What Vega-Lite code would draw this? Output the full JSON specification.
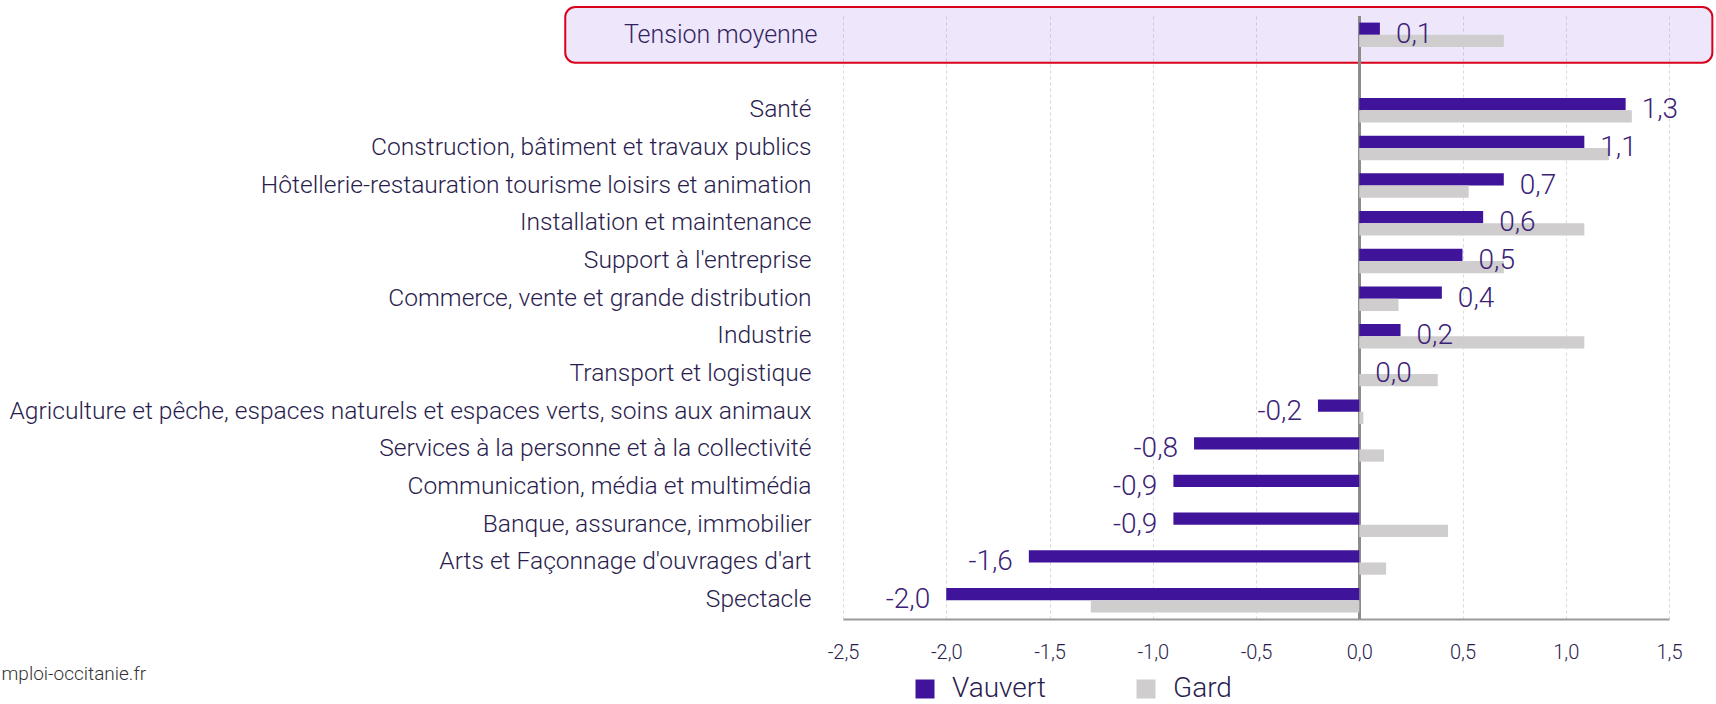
{
  "$schema": "https://vega.github.io/schema/vega-lite/v6.json",
  "autosize": "none",
  "width": 826,
  "height": 603,
  "padding": {"left": 843, "top": 16, "right": 47, "bottom": 85},
  "background": "white",
  "config": {
    "locale": {"number": {"decimal": ",", "thousands": " ", "grouping": [3], "currency": ["", " €"], "minus": "-"}},
    "view": {"stroke": null},
    "font": "Roboto"
  },
  "data": {
    "values": [
      {"cat": "Tension moyenne", "serie": "Vauvert", "value": 0.10},
      {"cat": "Tension moyenne", "serie": "Gard", "value": 0.70},
      {"cat": "Santé", "serie": "Vauvert", "value": 1.29},
      {"cat": "Santé", "serie": "Gard", "value": 1.32},
      {"cat": "Construction, bâtiment et travaux publics", "serie": "Vauvert", "value": 1.09},
      {"cat": "Construction, bâtiment et travaux publics", "serie": "Gard", "value": 1.21},
      {"cat": "Hôtellerie-restauration tourisme loisirs et animation", "serie": "Vauvert", "value": 0.70},
      {"cat": "Hôtellerie-restauration tourisme loisirs et animation", "serie": "Gard", "value": 0.53},
      {"cat": "Installation et maintenance", "serie": "Vauvert", "value": 0.60},
      {"cat": "Installation et maintenance", "serie": "Gard", "value": 1.09},
      {"cat": "Support à l'entreprise", "serie": "Vauvert", "value": 0.50},
      {"cat": "Support à l'entreprise", "serie": "Gard", "value": 0.70},
      {"cat": "Commerce, vente et grande distribution", "serie": "Vauvert", "value": 0.40},
      {"cat": "Commerce, vente et grande distribution", "serie": "Gard", "value": 0.19},
      {"cat": "Industrie", "serie": "Vauvert", "value": 0.20},
      {"cat": "Industrie", "serie": "Gard", "value": 1.09},
      {"cat": "Transport et logistique", "serie": "Vauvert", "value": 0.00},
      {"cat": "Transport et logistique", "serie": "Gard", "value": 0.38},
      {"cat": "Agriculture et pêche, espaces naturels et espaces verts, soins aux animaux", "serie": "Vauvert", "value": -0.20},
      {"cat": "Agriculture et pêche, espaces naturels et espaces verts, soins aux animaux", "serie": "Gard", "value": 0.02},
      {"cat": "Services à la personne et à la collectivité", "serie": "Vauvert", "value": -0.80},
      {"cat": "Services à la personne et à la collectivité", "serie": "Gard", "value": 0.12},
      {"cat": "Communication, média et multimédia", "serie": "Vauvert", "value": -0.90},
      {"cat": "Communication, média et multimédia", "serie": "Gard", "value": 0.00},
      {"cat": "Banque, assurance, immobilier", "serie": "Vauvert", "value": -0.90},
      {"cat": "Banque, assurance, immobilier", "serie": "Gard", "value": 0.43},
      {"cat": "Arts et Façonnage d'ouvrages d'art", "serie": "Vauvert", "value": -1.60},
      {"cat": "Arts et Façonnage d'ouvrages d'art", "serie": "Gard", "value": 0.13},
      {"cat": "Spectacle", "serie": "Vauvert", "value": -2.00},
      {"cat": "Spectacle", "serie": "Gard", "value": -1.30}
    ]
  },
  "layer": [
    {
      "data": {"values": [{"cat": "Tension moyenne"}]},
      "mark": {
        "type": "bar",
        "height": {"band": 2.27},
        "fill": "#7C3FE0",
        "fillOpacity": 0.13,
        "stroke": "#D9001B",
        "strokeWidth": 2,
        "cornerRadius": 10
      },
      "encoding": {
        "y": {"field": "cat", "type": "nominal"},
        "x": {"datum": -3.845, "type": "quantitative"},
        "x2": {"datum": 1.71}
      }
    },
    {
      "mark": {"type": "rule", "color": "#8C8C8C", "strokeWidth": 2},
      "encoding": {"x": {"datum": 0, "type": "quantitative"}}
    },
    {
      "mark": {"type": "bar"},
      "encoding": {
        "y": {
          "field": "cat",
          "type": "nominal",
          "sort": null,
          "scale": {
            "domain": [
              "Tension moyenne", " ", "Santé",
              "Construction, bâtiment et travaux publics",
              "Hôtellerie-restauration tourisme loisirs et animation",
              "Installation et maintenance",
              "Support à l'entreprise",
              "Commerce, vente et grande distribution",
              "Industrie",
              "Transport et logistique",
              "Agriculture et pêche, espaces naturels et espaces verts, soins aux animaux",
              "Services à la personne et à la collectivité",
              "Communication, média et multimédia",
              "Banque, assurance, immobilier",
              "Arts et Façonnage d'ouvrages d'art",
              "Spectacle"
            ],
            "paddingInner": 0.35,
            "paddingOuter": 0.175
          },
          "axis": {
            "title": null,
            "domain": false,
            "ticks": false,
            "grid": false,
            "labelPadding": {"condition": {"test": "datum.value == 'Tension moyenne'", "value": 26}, "value": 32},
            "labelFontSize": {"condition": {"test": "datum.value == 'Tension moyenne'", "value": 25}, "value": 24.6},
            "labelFontWeight": 300,
            "labelColor": "#2A1D4E",
            "labelLimit": 1000
          }
        },
        "yOffset": {"field": "serie", "type": "nominal", "sort": ["Vauvert", "Gard"]},
        "x": {
          "field": "value",
          "type": "quantitative",
          "scale": {"domain": [-2.5, 1.5], "nice": false, "zero": false},
          "axis": {
            "title": "mploi-occitanie.fr",
            "titleX": -842,
            "titleY": 60,
            "titleAlign": "left",
            "titleAnchor": "start",
            "titleBaseline": "alphabetic",
            "titleFontSize": 19,
            "titleFontWeight": 300,
            "titleColor": "#333333",
            "values": [-2.5, -2, -1.5, -1, -0.5, 0, 0.5, 1, 1.5],
            "format": ".1f",
            "labelFlush": false,
            "labelOverlap": false,
            "grid": true,
            "gridDash": [3, 3],
            "gridColor": "#D9D9D9",
            "gridWidth": 1,
            "ticks": false,
            "domainColor": "#9A9A9A",
            "domainWidth": 2,
            "labelFontSize": 20,
            "labelFontWeight": 300,
            "labelPadding": 23,
            "labelColor": "#2A1D4E"
          }
        },
        "color": {
          "field": "serie",
          "type": "nominal",
          "scale": {"domain": ["Vauvert", "Gard"], "range": ["#40149A", "#CFCDCE"]},
          "legend": {
            "orient": "none",
            "legendX": 68,
            "legendY": 659,
            "direction": "horizontal",
            "title": null,
            "symbolType": "square",
            "symbolSize": 361,
            "symbolStrokeWidth": 0,
            "symbolOpacity": 1,
            "labelFontSize": 28,
            "labelFontWeight": 300,
            "labelColor": "#2A1D4E",
            "labelOffset": 13,
            "columnPadding": 86
          }
        }
      }
    },
    {
      "transform": [{"filter": "datum.serie == 'Vauvert' && datum.value >= 0"}],
      "mark": {"type": "text", "align": "left", "baseline": "middle", "dx": 16, "fontSize": 28, "fontWeight": 300, "color": "#3B2277"},
      "encoding": {
        "y": {"field": "cat", "type": "nominal"},
        "x": {"field": "value", "type": "quantitative"},
        "text": {"field": "value", "type": "quantitative", "format": ".1f"}
      }
    },
    {
      "transform": [{"filter": "datum.serie == 'Vauvert' && datum.value < 0"}],
      "mark": {"type": "text", "align": "right", "baseline": "middle", "dx": -16, "fontSize": 28, "fontWeight": 300, "color": "#3B2277"},
      "encoding": {
        "y": {"field": "cat", "type": "nominal"},
        "x": {"field": "value", "type": "quantitative"},
        "text": {"field": "value", "type": "quantitative", "format": ".1f"}
      }
    }
  ]
}
